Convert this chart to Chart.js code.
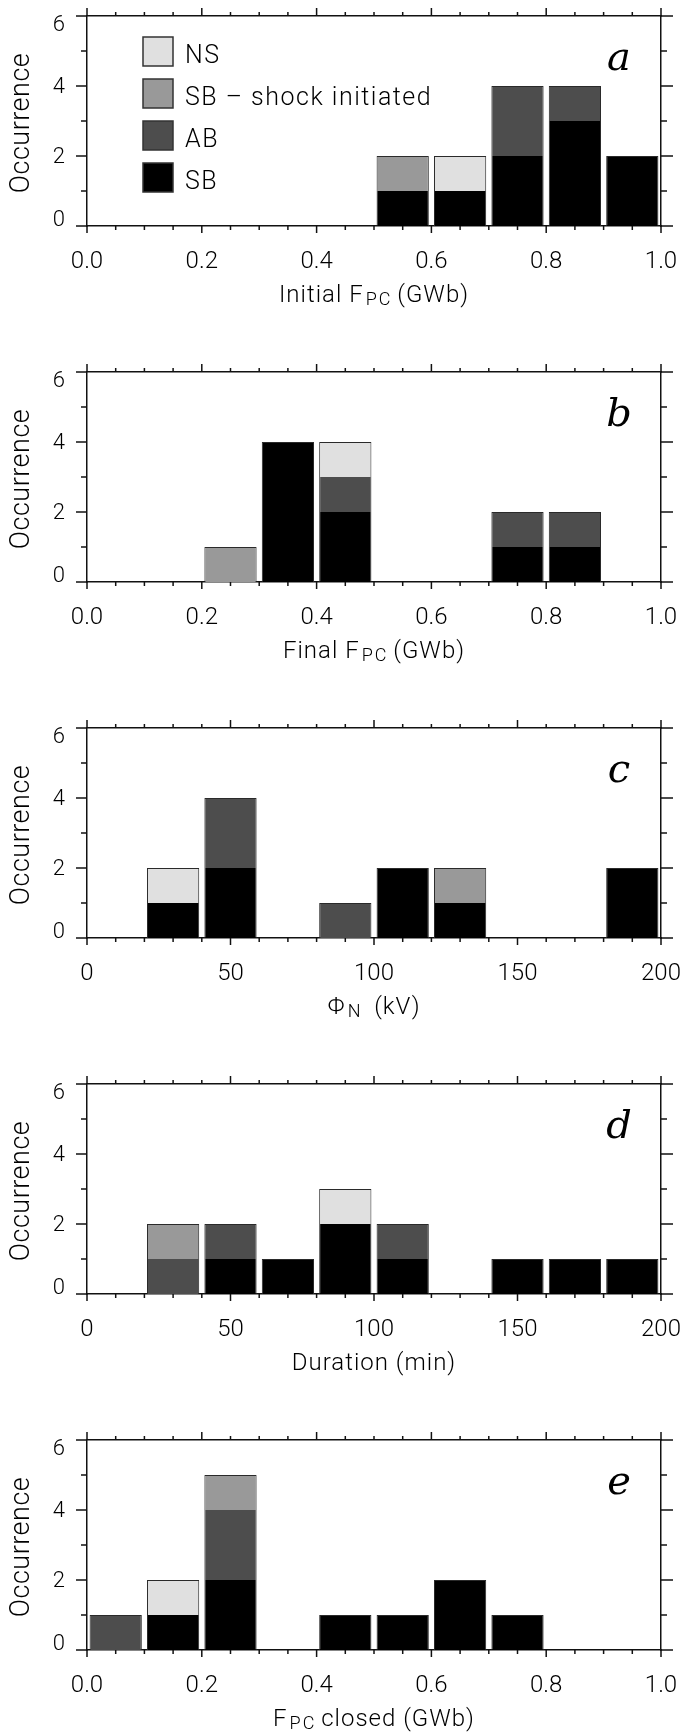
<!DOCTYPE html>
<html><head><meta charset="utf-8">
<script src="https://cdn.jsdelivr.net/npm/chart.js@4.4.0/dist/chart.umd.min.js"></script>
<style>
html,body{margin:0;padding:0;background:#fff;}
canvas{display:block;}
</style></head><body>
<div id="wrap"></div>
<script>
// ---- categories (bin centres) ----
const fpcBins = [0.05,0.15,0.25,0.35,0.45,0.55,0.65,0.75,0.85,0.95];
const kvBins  = [10,30,50,70,90,110,130,150,170,190];
const minBins = [10,30,50,70,90,110,130,150,170,190];

// ---- tick labels ----
const fpcTicks = ['0.0','0.2','0.4','0.6','0.8','1.0'];
const kvTicks  = ['0','50','100','150','200'];
const minTicks = ['0','50','100','150','200'];
const yTicks   = ['0','2','4','6'];

// ---- series (stack order bottom -> top) ----
const seriesNames  = ['SB','AB','SB \u2013 shock initiated','NS'];
const seriesColors = ['#000000','#4d4d4d','#999999','#e0e0e0'];

// panel a : Initial F_PC
const aSB  = [0,0,0,0,0,1,1,2,3,2];
const aAB  = [0,0,0,0,0,0,0,2,1,0];
const aSBs = [0,0,0,0,0,1,0,0,0,0];
const aNS  = [0,0,0,0,0,0,1,0,0,0];
// panel b : Final F_PC
const bSB  = [0,0,0,4,2,0,0,1,1,0];
const bAB  = [0,0,0,0,1,0,0,1,1,0];
const bSBs = [0,0,1,0,0,0,0,0,0,0];
const bNS  = [0,0,0,0,1,0,0,0,0,0];
// panel c : Phi_N
const cSB  = [0,1,2,0,0,2,1,0,0,2];
const cAB  = [0,0,2,0,1,0,0,0,0,0];
const cSBs = [0,0,0,0,0,0,1,0,0,0];
const cNS  = [0,1,0,0,0,0,0,0,0,0];
// panel d : Duration
const dSB  = [0,0,1,1,2,1,0,1,1,1];
const dAB  = [0,1,1,0,0,1,0,0,0,0];
const dSBs = [0,1,0,0,0,0,0,0,0,0];
const dNS  = [0,0,0,0,1,0,0,0,0,0];
// panel e : F_PC closed
const eSB  = [0,1,2,0,1,1,2,1,0,0];
const eAB  = [1,0,2,0,0,0,0,0,0,0];
const eSBs = [0,0,1,0,0,0,0,0,0,0];
const eNS  = [0,1,0,0,0,0,0,0,0,0];

const panels = [
  {letter:'a', bins:fpcBins, max:1,   ticks:fpcTicks, minor:0.05, series:[aSB,aAB,aSBs,aNS], legend:true,
   title:[['Initial F',0],['PC',1],[' (GWb)',0]]},
  {letter:'b', bins:fpcBins, max:1,   ticks:fpcTicks, minor:0.05, series:[bSB,bAB,bSBs,bNS],
   title:[['Final F',0],['PC',1],[' (GWb)',0]]},
  {letter:'c', bins:kvBins,  max:200, ticks:kvTicks,  minor:10,   series:[cSB,cAB,cSBs,cNS],
   title:[['\u03A6',0],['N',1],['  (kV)',0]]},
  {letter:'d', bins:minBins, max:200, ticks:minTicks, minor:10,   series:[dSB,dAB,dSBs,dNS],
   title:[['Duration (min)',0]]},
  {letter:'e', bins:fpcBins, max:1,   ticks:fpcTicks, minor:0.05, series:[eSB,eAB,eSBs,eNS],
   title:[['F',0],['PC',1],[' closed (GWb)',0]]}
];

const INK = '#111';
const MAIN = '300 24px Roboto';
const SUB = '300 18px Roboto';

function borderFor(series, k, i) {
  const v = series[k][i];
  let isTop = v > 0;
  for (let m = k + 1; m < series.length; m++) if (series[m][i] > 0) isTop = false;
  return {left:1, right:1, bottom:0, top: isTop ? 1 : 0};
}

function makeDecor(p) {
  const tickVals = p.ticks.map(Number);
  return {
    id: 'decor',
    afterDraw(chart) {
      const ctx = chart.ctx;
      const {left, right, top, bottom} = chart.chartArea;
      const xs = chart.scales.x, ys = chart.scales.y;
      ctx.save();
      ctx.strokeStyle = INK; ctx.lineWidth = 1.5; ctx.lineCap = 'butt';
      const line = (x1,y1,x2,y2) => { ctx.beginPath(); ctx.moveTo(x1,y1); ctx.lineTo(x2,y2); ctx.stroke(); };
      const n = Math.round(p.max / p.minor);
      for (let j = 0; j <= n; j++) {
        const v = j * p.minor;
        const px = xs.getPixelForValue(v);
        const major = tickVals.some(t => Math.abs(t - v) < 1e-9);
        line(px, bottom, px, bottom + (major ? 7 : 4));
        line(px, top, px, top - (major ? 8 : 4));
      }
      for (let v = 0; v <= 6; v++) {
        const py = ys.getPixelForValue(v);
        const major = v % 2 === 0;
        line(left, py, left - (major ? 11 : 6), py);
        line(right, py, right + (major ? 12 : 6), py);
      }
      // y tick labels
      ctx.fillStyle = '#000';
      ctx.font = '300 22px Roboto';
      ctx.textAlign = 'right'; ctx.textBaseline = 'middle';
      yTicks.forEach(t => {
        const v = Number(t);
        const py = ys.getPixelForValue(v);
        const shift = v === 6 ? 9 : (v === 0 ? -6 : 1);
        ctx.fillText(t, left - 22, py + shift);
      });
      // y axis title
      ctx.save();
      ctx.translate(22, (top + bottom) / 2 + 2);
      ctx.rotate(-Math.PI / 2);
      ctx.textAlign = 'center'; ctx.textBaseline = 'middle';
      ctx.font = '300 27px Roboto';
      ctx.letterSpacing = '0.5px';
      ctx.fillText('Occurrence', 0, 0);
      ctx.letterSpacing = '0px';
      ctx.restore();
      // x axis title with subscripts
      ctx.textAlign = 'left'; ctx.textBaseline = 'alphabetic';
      const spacing = sub => sub ? '2px' : '1px';
      let total = 0;
      p.title.forEach(([s, sub]) => {
        ctx.font = sub ? SUB : MAIN; ctx.letterSpacing = spacing(sub);
        total += ctx.measureText(s).width;
      });
      let x = (left + right) / 2 - total / 2;
      const base = bottom + 76;
      p.title.forEach(([s, sub]) => {
        ctx.font = sub ? SUB : MAIN; ctx.letterSpacing = spacing(sub);
        ctx.fillText(s, x + (sub ? 2 : 0), sub ? base + 3 : base);
        x += ctx.measureText(s).width;
      });
      ctx.letterSpacing = '0px';
      // panel letter
      ctx.font = 'italic 40px "DejaVu Serif"';
      ctx.textAlign = 'center';
      ctx.fillText(p.letter, 619, top + 54);
      // legend
      if (p.legend) {
        ctx.font = '300 25px Roboto';
        ctx.letterSpacing = '1.5px';
        for (let r = 0; r < 4; r++) {
          const k = 3 - r;
          const by = top + 21 + r * 42;
          ctx.fillStyle = seriesColors[k];
          ctx.fillRect(143, by, 30, 29);
          ctx.strokeStyle = '#333'; ctx.lineWidth = 1.5;
          ctx.strokeRect(143, by, 30, 29);
          ctx.fillStyle = '#000';
          ctx.textAlign = 'left';
          ctx.fillText(seriesNames[k], 185, by + 26);
        }
        ctx.letterSpacing = '0px';
      }
      ctx.restore();
    }
  };
}

const wrap = document.getElementById('wrap');
panels.forEach((p, idx) => {
  const H = idx === 4 ? 311 : 356;
  const cv = document.createElement('canvas');
  cv.width = 686; cv.height = H;
  cv.style.width = '686px'; cv.style.height = H + 'px';
  wrap.appendChild(cv);
  const tickVals = p.ticks.map(Number);
  const axisBorder = {display:true, color:INK, width:1.5};
  new Chart(cv, {
    type: 'bar',
    data: {
      datasets: p.series.map((vals, k) => ({
        label: seriesNames[k],
        data: p.bins.map((b, i) => ({x:b, y:vals[i]})),
        backgroundColor: seriesColors[k],
        borderColor: '#2a2a2a',
        borderWidth: c => borderFor(p.series, c.datasetIndex, c.dataIndex),
        borderSkipped: false,
        barPercentage: 0.91,
        categoryPercentage: 1
      }))
    },
    options: {
      responsive: false, animation: false, devicePixelRatio: 1,
      layout: {padding: 0},
      plugins: {legend: {display:false}, tooltip: {enabled:false}},
      scales: {
        x: {type:'linear', position:'bottom', min:0, max:p.max, offset:false, stacked:true,
            afterBuildTicks: s => { s.ticks = tickVals.map(v => ({value:v})); },
            ticks: {callback: (v, i) => p.ticks[i], font:{family:'Roboto', size:24, weight:'300'},
                    color:'#000', padding:22, maxRotation:0, autoSkip:false},
            grid: {display:false, drawTicks:false, offset:false},
            border: axisBorder,
            afterFit: s => { s.height = H - 226; s.paddingLeft = 0; s.paddingRight = 0; }},
        xTop: {type:'linear', position:'top', min:0, max:p.max, offset:false,
            ticks:{display:false}, grid:{display:false, drawTicks:false, offset:false},
            border: axisBorder, afterFit: s => { s.height = 16; s.paddingLeft = 0; s.paddingRight = 0; }},
        y: {type:'linear', position:'left', min:0, max:6, stacked:true,
            ticks:{display:false}, grid:{display:false, drawTicks:false},
            border: axisBorder, afterFit: s => { s.width = 87; s.paddingTop = 0; s.paddingBottom = 0; }},
        yRight: {type:'linear', position:'right', min:0, max:6,
            ticks:{display:false}, grid:{display:false, drawTicks:false},
            border: axisBorder, afterFit: s => { s.width = 25; s.paddingTop = 0; s.paddingBottom = 0; }}
      }
    },
    plugins: [makeDecor(p)]
  });
});
</script>
</body></html>
